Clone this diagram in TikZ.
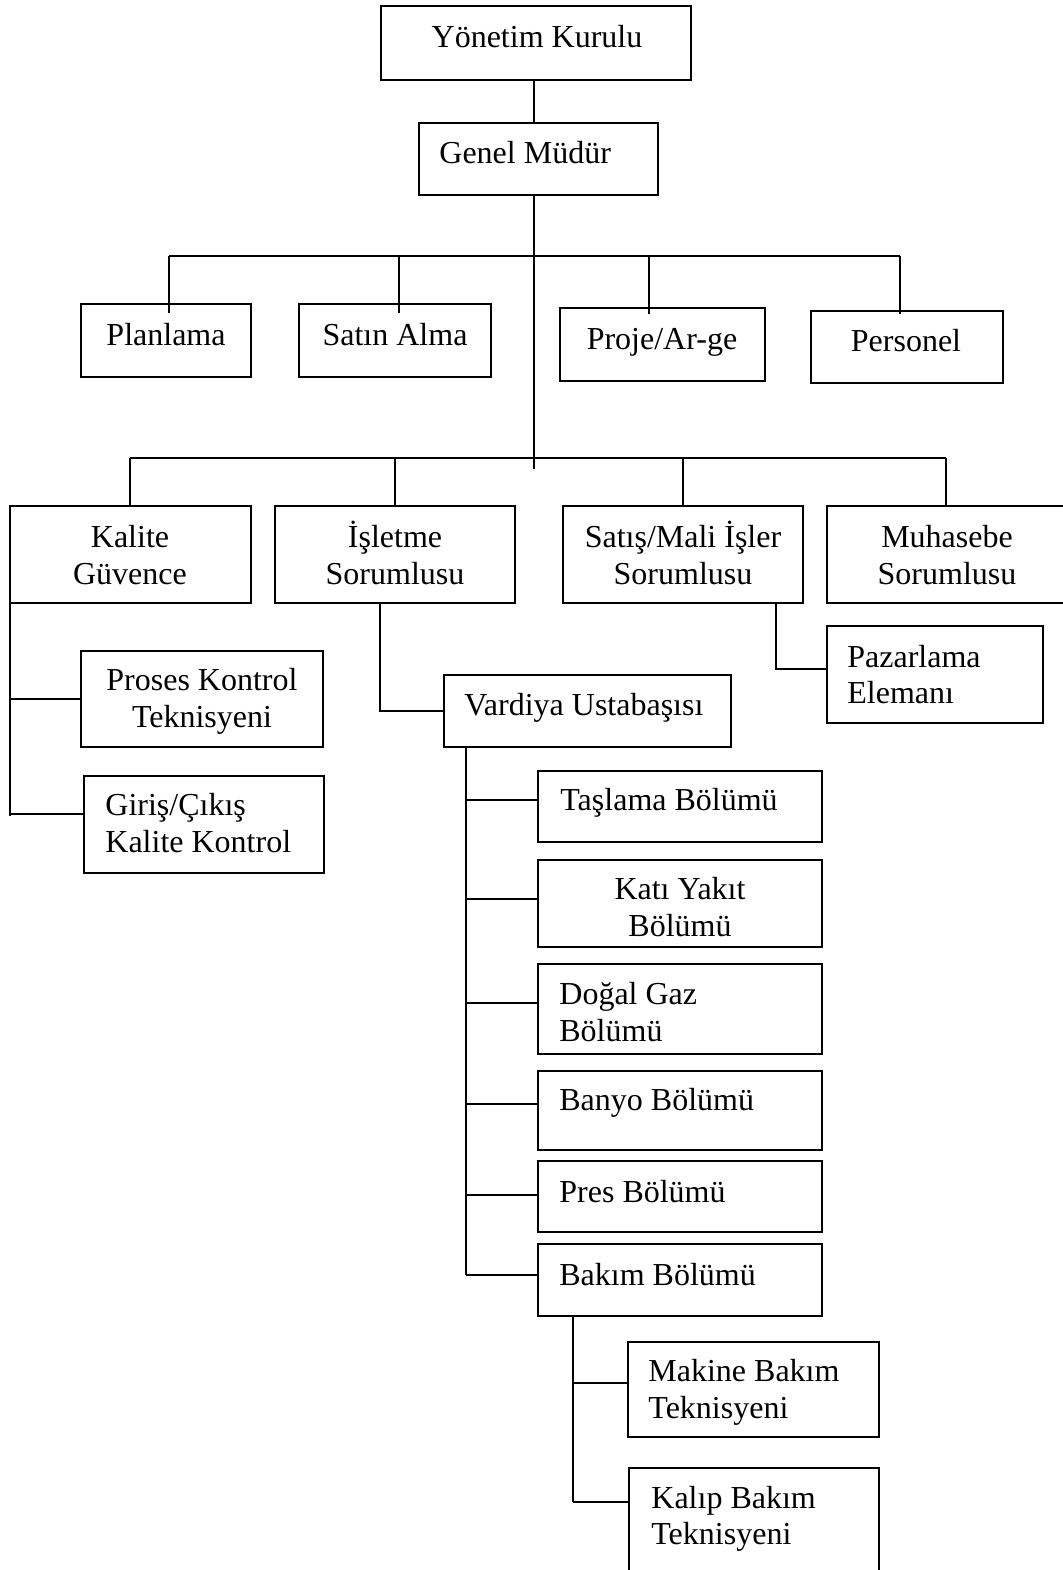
\documentclass[tikz,border=0pt]{standalone}
\usepackage{fontspec}
\setmainfont{Liberation Serif}
\usetikzlibrary{fit}
\begin{document}
\begin{tikzpicture}[x=0.5pt,y=-0.5pt,
  box/.style={draw, line width=1.1pt, inner sep=0pt, outer sep=0pt},
  wire/.style={line width=1.1pt},
  lbl/.style={inner sep=0pt, anchor=base, font=\fontsize{16pt}{18.5pt}\selectfont},
  lbll/.style={lbl, anchor=base west}]
\clip (0,0) rectangle (1063,1570);
\fill[white] (0,0) rectangle (1063,1570);

% top levels
\node[box, fit={(381,6) (691,80)}] (yk) {};
\node[lbl] (yk-t) at (537,47) {Yönetim Kurulu};
\node[box, fit={(419,123) (658,195)}] (gm) {};
\node[lbll] (gm-t) at (439,163) {Genel Müdür};

% staff units
\node[box, fit={(81,304) (251,377)}] (pl) {};
\node[lbl] (pl-t) at (166,345) {Planlama};
\node[box, fit={(299,304) (491,377)}] (sa) {};
\node[lbl] (sa-t) at (395,345) {Satın Alma};
\node[box, fit={(560,308) (765,381)}] (pr) {};
\node[lbl] (pr-t) at (662,349) {Proje/Ar-ge};
\node[box, fit={(811,311) (1003,383)}] (pe) {};
\node[lbl] (pe-t) at (906,351) {Personel};

% line managers
\node[box, fit={(10,506) (251,603)}] (kg) {};
\node[lbl] (kg-t1) at (130,547) {Kalite};
\node[lbl] (kg-t2) at (130,584) {Güvence};
\node[box, fit={(275,506) (515,603)}] (is) {};
\node[lbl] (is-t1) at (395,547) {İşletme};
\node[lbl] (is-t2) at (395,584) {Sorumlusu};
\node[box, fit={(563,506) (803,603)}] (sm) {};
\node[lbl] (sm-t1) at (683,547) {Satış/Mali İşler};
\node[lbl] (sm-t2) at (683,584) {Sorumlusu};
\node[box, fit={(827,506) (1068,603)}] (mu) {};
\node[lbl] (mu-t1) at (947,547) {Muhasebe};
\node[lbl] (mu-t2) at (947,584) {Sorumlusu};

% quality
\node[box, fit={(81,651) (323,747)}] (pk) {};
\node[lbl] (pk-t1) at (202,690) {Proses Kontrol};
\node[lbl] (pk-t2) at (202,727) {Teknisyeni};
\node[box, fit={(84,776) (324,873)}] (gc) {};
\node[lbll] (gc-t1) at (105,815) {Giriş/Çıkış};
\node[lbll] (gc-t2) at (105,852) {Kalite Kontrol};

% shift foreman and marketing
\node[box, fit={(444,675) (731,747)}] (vu) {};
\node[lbll] (vu-t) at (464,715) {Vardiya Ustabaşısı};
\node[box, fit={(827,626) (1043,723)}] (pz) {};
\node[lbll] (pz-t1) at (847,667) {Pazarlama};
\node[lbll] (pz-t2) at (847,703) {Elemanı};

% departments
\node[box, fit={(538,771) (822,842)}] (ta) {};
\node[lbll] (ta-t) at (560,810) {Taşlama Bölümü};
\node[box, fit={(538,860) (822,947)}] (ky) {};
\node[lbl] (ky-t1) at (680,899) {Katı Yakıt};
\node[lbl] (ky-t2) at (680,936) {Bölümü};
\node[box, fit={(538,964) (822,1054)}] (dg) {};
\node[lbll] (dg-t1) at (559,1004) {Doğal Gaz};
\node[lbll] (dg-t2) at (559,1041) {Bölümü};
\node[box, fit={(538,1071) (822,1150)}] (ba) {};
\node[lbll] (ba-t) at (559,1110) {Banyo Bölümü};
\node[box, fit={(538,1161) (822,1232)}] (ps) {};
\node[lbll] (ps-t) at (559,1202) {Pres Bölümü};
\node[box, fit={(538,1244) (822,1316)}] (bk) {};
\node[lbll] (bk-t) at (559,1285) {Bakım Bölümü};

% maintenance technicians
\node[box, fit={(628,1342) (879,1437)}] (mb) {};
\node[lbll] (mb-t1) at (648,1381) {Makine Bakım};
\node[lbll] (mb-t2) at (648,1418) {Teknisyeni};
\node[box, fit={(629,1468) (879,1590)}] (kb) {};
\node[lbll] (kb-t1) at (651,1508) {Kalıp Bakım};
\node[lbll] (kb-t2) at (651,1544) {Teknisyeni};

% main spine
\coordinate (sp) at (534,0);
\coordinate (spend) at (534,469);
\draw[wire] (sp |- yk.south) -- (sp |- gm.north);
\draw[wire] (sp |- gm.south) -- (spend);

% upper bus to staff units
\coordinate (ubl) at (169,256);
\coordinate (ubr) at (900,256);
\coordinate (dpl) at (169,313);
\coordinate (dsa) at (399,313);
\coordinate (dpr) at (649,314);
\coordinate (dpe) at (900,314);
\draw[wire] (ubl) -- (ubr);
\draw[wire] (ubl) -- (dpl);
\draw[wire] (dsa |- ubl) -- (dsa);
\draw[wire] (dpr |- ubl) -- (dpr);
\draw[wire] (ubr) -- (dpe);

% lower bus to line managers
\coordinate (lbl) at (130,458);
\coordinate (lbr) at (946,458);
\draw[wire] (lbl) -- (lbr);
\draw[wire] (lbl) -- (lbl |- kg.north);
\draw[wire] (is.north |- lbl) -- (is.north);
\draw[wire] (sm.north |- lbl) -- (sm.north);
\draw[wire] (lbr) -- (lbr |- mu.north);

% quality branch
\coordinate (kgx) at (10,0);
\coordinate (kgb) at (10,816);
\coordinate (gc-in) at (84,814);
\draw[wire] (kgx |- kg.south) -- (kgb);
\draw[wire] (kgx |- pk.west) -- (pk.west);
\draw[wire] (kgx |- gc-in) -- (gc-in);

% operations branch
\coordinate (isv) at (380,0);
\draw[wire] (isv |- is.south) |- (vu.west);

% sales branch
\coordinate (smv) at (776,0);
\coordinate (pz-in) at (827,669);
\draw[wire] (smv |- sm.south) |- (pz-in);

% departments under the shift foreman
\coordinate (vx) at (466,0);
\coordinate (ta-in) at (538,800);
\coordinate (ky-in) at (538,899);
\coordinate (dg-in) at (538,1003);
\coordinate (ba-in) at (538,1104);
\coordinate (ps-in) at (538,1195);
\coordinate (bk-in) at (538,1275);
\draw[wire] (vx |- vu.south) -- (vx |- bk-in);
\foreach \d in {ta,ky,dg,ba,ps,bk}
  \draw[wire] (vx |- \d-in) -- (\d-in);

% maintenance technicians
\coordinate (bx) at (573,0);
\coordinate (mb-in) at (628,1383);
\coordinate (kb-in) at (629,1502);
\draw[wire] (bx |- bk.south) -- (bx |- kb-in);
\draw[wire] (bx |- mb-in) -- (mb-in);
\draw[wire] (bx |- kb-in) -- (kb-in);
\end{tikzpicture}
\end{document}
